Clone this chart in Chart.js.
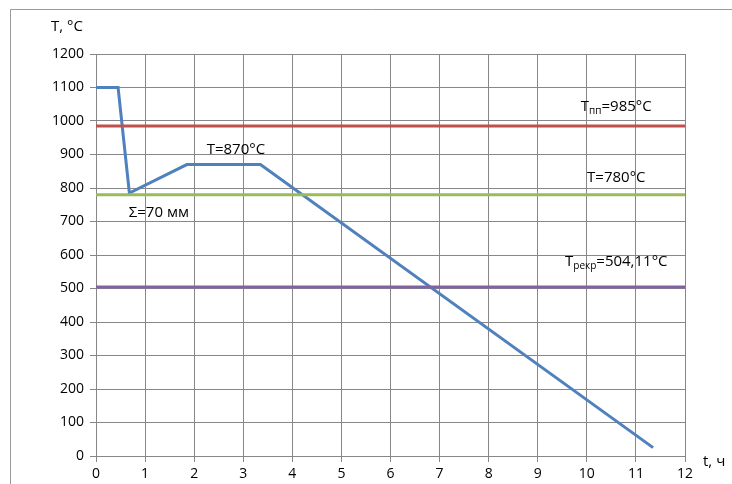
<!DOCTYPE html>
<html><head><meta charset="utf-8">
<script src="https://cdn.jsdelivr.net/npm/chart.js@4/dist/chart.umd.min.js"></script>
<style>html,body{margin:0;padding:0;background:#fff;}#wrap{width:732px;height:484px;position:relative;}</style>
</head><body>
<div id="wrap"><canvas id="c" width="732" height="484"></canvas></div>
<script>
const curveTime = [0, 0.45, 0.68, 1.85, 3.35, 11.35];
const curveTemp = [1100, 1100, 785, 870, 870, 25];
const lineTpp = 985;
const lineT780 = 780;
const lineTrekr = 504.11;
const xRange = [0, 12];
const yTicks = [0,100,200,300,400,500,600,700,800,900,1000,1100,1200];
const xTicks = [0,1,2,3,4,5,6,7,8,9,10,11,12];

const FONT = '"Open Sans", "Liberation Sans", sans-serif';

function hLine(v){ return [{x:xRange[0], y:v},{x:xRange[1], y:v}]; }

// Annotations: [x, y (data), segments]
const annotations = [
  {x: 10.6, y: 1042, parts: [["T",15,0],["пп",10,4],["=985°C",15,0]]},
  {x: 10.6, y: 830, parts: [["T=780°C",15,0]]},
  {x: 10.6, y: 579, parts: [["T",15,0],["рекр",10,4],["=504,11°C",15,0]]},
  {x: 2.85, y: 913, parts: [["T=870°C",15,0]]},
  {x: 1.28, y: 725, parts: [["Σ=70 мм",15,0]]}
];

const decor = {
  id: 'decor',
  afterDraw(chart){
    const ctx = chart.ctx, xs = chart.scales.x, ys = chart.scales.y;
    ctx.save();
    ctx.strokeStyle = '#9a9a9a'; ctx.lineWidth = 1;
    ctx.beginPath(); ctx.moveTo(10.5, 484); ctx.lineTo(10.5, 9.5); ctx.lineTo(732, 9.5); ctx.stroke();
    ctx.fillStyle = '#000'; ctx.textBaseline = 'middle';
    for (const a of annotations){
      let total = 0;
      for (const [t,s] of a.parts){ ctx.font = s + 'px ' + FONT; total += ctx.measureText(t).width; }
      let px = xs.getPixelForValue(a.x) - total/2;
      const py = ys.getPixelForValue(a.y);
      for (const [t,s,off] of a.parts){
        ctx.font = s + 'px ' + FONT; ctx.textAlign = 'left';
        ctx.fillText(t, px, py + off);
        px += ctx.measureText(t).width;
      }
    }
    ctx.font = '15px ' + FONT; ctx.textAlign = 'left';
    ctx.fillText('T, °C', 51, 27);
    ctx.fillText('t, ч', 703, 462);
    ctx.restore();
  }
};

new Chart(document.getElementById('c'), {
  type: 'scatter',
  data: {
    datasets: [
      {data: hLine(lineTrekr), showLine: true, borderColor: '#8064A2', borderWidth: 3, pointRadius: 0},
      {data: hLine(lineT780), showLine: true, borderColor: '#9BBB59', borderWidth: 3, pointRadius: 0},
      {data: hLine(lineTpp), showLine: true, borderColor: '#C0504D', borderWidth: 3, pointRadius: 0},
      {data: curveTime.map((t,i)=>({x:t, y:curveTemp[i]})), showLine: true, borderColor: '#4F81BD', borderWidth: 3, pointRadius: 0, borderJoinStyle: 'miter'}
    ]
  },
  options: {
    responsive: false, animation: false,
    layout: {padding: {top: 54, right: 47, left: 0, bottom: 0}},
    plugins: {legend: {display: false}, tooltip: {enabled: false}},
    scales: {
      x: {
        type: 'linear', min: 0, max: 12,
        afterBuildTicks(s){ s.ticks = xTicks.map(v=>({value:v})); },
        afterFit(s){ s.height = 28; },
        grid: {color: '#878787', lineWidth: 1, tickLength: 6, drawTicks: true},
        border: {color: '#878787'},
        ticks: {color: '#000', font: {family: FONT, size: 14}, padding: 4, maxRotation: 0, autoSkip: false, callback: v => String(v)}
      },
      y: {
        type: 'linear', min: 0, max: 1200,
        afterBuildTicks(s){ s.ticks = yTicks.map(v=>({value:v})); },
        afterFit(s){ s.width = 96; },
        grid: {color: '#878787', lineWidth: 1, tickLength: 6, drawTicks: true},
        border: {color: '#878787'},
        ticks: {color: '#000', font: {family: FONT, size: 14}, padding: 6, autoSkip: false, callback: v => String(v)}
      }
    }
  },
  plugins: [decor]
});
</script>
</body></html>
